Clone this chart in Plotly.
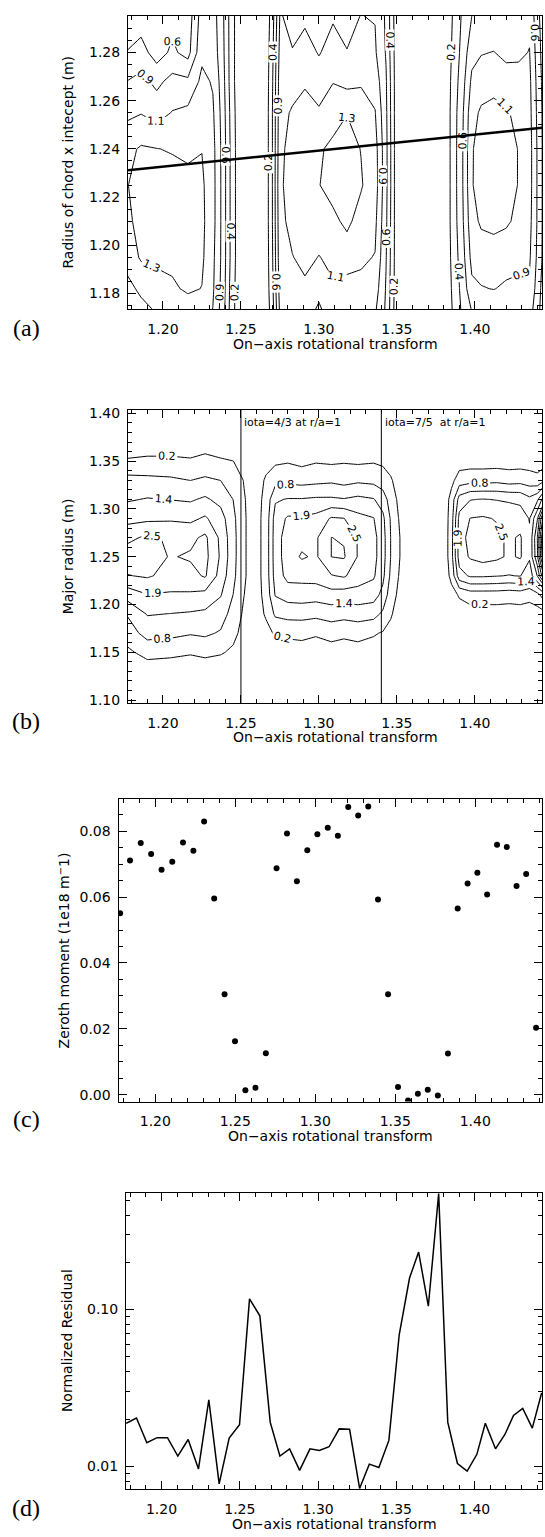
import plotly.graph_objects as go

# ---------------- Panel (a): contour of zeroth moment vs iota and chord radius
A_X = [1.176, 1.186, 1.196, 1.206, 1.216, 1.225, 1.232, 1.238, 1.244, 1.250,
       1.265, 1.270, 1.275, 1.283, 1.291, 1.300, 1.309, 1.318, 1.327, 1.336,
       1.343, 1.349, 1.355, 1.380, 1.386, 1.392, 1.398, 1.404, 1.412, 1.420,
       1.428, 1.435, 1.440, 1.445]
A_Y = [1.170, 1.182, 1.195, 1.210, 1.225, 1.240, 1.255, 1.268, 1.280, 1.297]
# one list per x column (bottom -> top)
A_COLS = [
    [0.85, 0.98, 1.15, 1.24, 1.27, 1.22, 1.02, 0.85, 0.64, 0.45],
    [0.95, 1.12, 1.31, 1.34, 1.35, 1.31, 1.06, 0.92, 0.72, 0.50],
    [1.05, 1.20, 1.33, 1.36, 1.36, 1.29, 0.98, 0.80, 0.54, 0.45],
    [1.15, 1.25, 1.34, 1.38, 1.37, 1.27, 1.08, 0.92, 0.68, 0.55],
    [1.12, 1.32, 1.36, 1.37, 1.35, 1.24, 1.12, 0.90, 0.56, 0.50],
    [1.20, 1.28, 1.32, 1.33, 1.32, 1.28, 1.18, 1.12, 1.02, 0.95],
    [1.05, 1.10, 1.12, 1.15, 1.15, 1.14, 1.10, 1.05, 0.98, 0.95],
    [0.75, 0.78, 0.80, 0.80, 0.80, 0.80, 0.78, 0.75, 0.72, 0.70],
    [0.30, 0.32, 0.35, 0.35, 0.35, 0.35, 0.33, 0.30, 0.30, 0.30],
    [0.00, 0.00, 0.00, 0.00, 0.00, 0.00, 0.00, 0.00, 0.00, 0.00],
    [0.00, 0.00, 0.00, 0.00, 0.00, 0.00, 0.00, 0.00, 0.00, 0.00],
    [0.30, 0.35, 0.38, 0.40, 0.40, 0.40, 0.40, 0.38, 0.35, 0.30],
    [0.88, 0.94, 0.98, 1.00, 1.02, 1.00, 0.98, 0.96, 0.92, 0.86],
    [0.84, 0.95, 1.06, 1.15, 1.20, 1.18, 1.10, 0.96, 0.86, 0.80],
    [0.90, 1.02, 1.14, 1.20, 1.25, 1.24, 1.16, 1.04, 0.93, 0.80],
    [0.80, 0.90, 1.06, 1.20, 1.28, 1.26, 1.10, 0.95, 0.84, 0.76],
    [0.92, 1.04, 1.13, 1.25, 1.34, 1.33, 1.20, 1.06, 0.93, 0.82],
    [0.84, 0.96, 1.20, 1.32, 1.36, 1.35, 1.28, 1.00, 0.86, 0.78],
    [0.92, 1.02, 1.10, 1.22, 1.30, 1.28, 1.15, 1.05, 0.93, 0.85],
    [0.86, 0.96, 1.06, 1.12, 1.18, 1.16, 1.08, 0.98, 0.88, 0.84],
    [0.60, 0.62, 0.65, 0.68, 0.70, 0.70, 0.68, 0.66, 0.62, 0.60],
    [0.12, 0.14, 0.15, 0.15, 0.15, 0.15, 0.15, 0.15, 0.14, 0.12],
    [0.00, 0.00, 0.00, 0.00, 0.00, 0.00, 0.00, 0.00, 0.00, 0.00],
    [0.00, 0.00, 0.00, 0.00, 0.00, 0.00, 0.00, 0.00, 0.00, 0.00],
    [0.22, 0.25, 0.28, 0.30, 0.30, 0.30, 0.30, 0.28, 0.25, 0.22],
    [0.45, 0.50, 0.55, 0.60, 0.62, 0.62, 0.60, 0.55, 0.50, 0.45],
    [0.60, 0.80, 0.92, 1.00, 1.05, 1.05, 1.00, 0.90, 0.78, 0.62],
    [0.66, 0.84, 0.96, 1.10, 1.18, 1.16, 1.10, 0.97, 0.84, 0.68],
    [0.60, 0.86, 0.98, 1.12, 1.18, 1.18, 1.13, 1.00, 0.86, 0.64],
    [0.68, 0.82, 0.94, 1.10, 1.16, 1.16, 1.10, 0.95, 0.80, 0.70],
    [0.60, 0.80, 0.92, 1.02, 1.06, 1.06, 1.00, 0.92, 0.82, 0.66],
    [0.70, 0.82, 0.88, 0.92, 0.94, 0.94, 0.92, 0.90, 0.86, 0.80],
    [0.50, 0.55, 0.60, 0.62, 0.62, 0.62, 0.60, 0.58, 0.55, 0.50],
    [0.20, 0.25, 0.30, 0.30, 0.30, 0.30, 0.30, 0.28, 0.25, 0.20],
]
CHORD_X = [1.1776, 1.443]
CHORD_Y = [1.2312, 1.2488]

# ---------------- Panel (b): contour vs iota and major radius
B_X = [1.176, 1.190, 1.205, 1.2176, 1.227, 1.237, 1.245, 1.252, 1.259,
       1.266, 1.272, 1.280, 1.289, 1.298, 1.308, 1.316, 1.325, 1.335, 1.341,
       1.346, 1.351, 1.356, 1.381, 1.385, 1.390, 1.397, 1.405, 1.414, 1.422,
       1.429, 1.435, 1.440, 1.445]
B_Y = [1.095, 1.135, 1.150, 1.170, 1.190, 1.210, 1.230, 1.250, 1.270,
       1.290, 1.310, 1.330, 1.350, 1.365, 1.405]
B_COLS = [
    [0, 0, 0.10, 0.50, 0.80, 1.55, 2.45, 2.80, 2.30, 1.75, 1.30, 1.00, 0.30, 0, 0],
    [0, 0.05, 0.45, 1.00, 1.40, 1.90, 2.55, 2.70, 2.60, 1.80, 1.40, 0.95, 0.35, 0.05, 0],
    [0, 0, 0.40, 0.95, 1.35, 1.85, 2.30, 2.45, 2.40, 1.85, 1.35, 0.90, 0.35, 0.05, 0],
    [0, 0, 0.30, 0.85, 1.30, 1.85, 2.30, 2.55, 2.35, 1.80, 1.30, 0.80, 0.30, 0.05, 0],
    [0, 0, 0.40, 0.90, 1.25, 1.75, 2.55, 2.65, 2.60, 2.00, 1.45, 0.90, 0.40, 0.10, 0],
    [0, 0, 0.30, 0.75, 1.05, 1.40, 1.70, 1.85, 1.80, 1.60, 1.20, 0.80, 0.30, 0.05, 0],
    [0, 0, 0.15, 0.40, 0.60, 0.80, 0.95, 1.00, 1.00, 0.95, 0.80, 0.55, 0.25, 0, 0],
    [0, 0, 0, 0.05, 0.15, 0.25, 0.30, 0.30, 0.30, 0.30, 0.28, 0.22, 0.10, 0, 0],
    [0, 0, 0, 0, 0, 0, 0, 0, 0, 0, 0, 0, 0, 0, 0],
    [0, 0, 0, 0.10, 0.30, 0.40, 0.45, 0.45, 0.45, 0.45, 0.40, 0.30, 0.10, 0, 0],
    [0, 0, 0, 0.30, 0.90, 1.40, 1.60, 1.65, 1.65, 1.60, 1.30, 0.60, 0.15, 0, 0],
    [0, 0, 0, 0.35, 1.00, 1.60, 2.10, 2.20, 2.20, 2.00, 1.40, 0.65, 0.20, 0, 0],
    [0, 0, 0, 0.40, 1.00, 1.65, 2.10, 2.55, 2.30, 2.00, 1.40, 0.60, 0.10, 0, 0],
    [0, 0, 0, 0.30, 0.95, 1.60, 2.15, 2.40, 2.40, 2.10, 1.45, 0.65, 0.20, 0, 0],
    [0, 0, 0, 0.45, 1.05, 1.70, 2.45, 3.05, 3.05, 2.55, 1.45, 0.70, 0.15, 0, 0],
    [0, 0, 0, 0.35, 1.00, 1.65, 2.55, 3.10, 3.00, 2.50, 1.40, 0.60, 0.20, 0, 0],
    [0, 0, 0, 0.45, 1.05, 1.70, 2.20, 2.45, 2.45, 2.10, 1.50, 0.70, 0.15, 0, 0],
    [0, 0, 0, 0.30, 1.00, 1.60, 2.00, 2.10, 2.10, 1.95, 1.40, 0.65, 0.20, 0, 0],
    [0, 0, 0, 0.20, 0.70, 1.20, 1.50, 1.60, 1.60, 1.50, 1.10, 0.50, 0.15, 0, 0],
    [0, 0, 0, 0.10, 0.30, 0.50, 0.70, 0.80, 0.80, 0.75, 0.55, 0.30, 0.05, 0, 0],
    [0, 0, 0, 0, 0.05, 0.15, 0.25, 0.30, 0.30, 0.25, 0.15, 0.05, 0, 0, 0],
    [0, 0, 0, 0, 0, 0, 0, 0, 0, 0, 0, 0, 0, 0, 0],
    [0, 0, 0, 0, 0, 0, 0, 0, 0, 0, 0, 0, 0, 0, 0],
    [0, 0, 0, 0, 0, 0.05, 0.40, 0.60, 0.60, 0.55, 0.45, 0.10, 0, 0, 0],
    [0, 0, 0, 0, 0, 0.30, 1.70, 2.20, 2.20, 2.10, 1.60, 0.50, 0, 0, 0],
    [0, 0, 0, 0, 0, 0.50, 2.00, 2.55, 2.70, 2.50, 1.90, 0.60, 0, 0, 0],
    [0, 0, 0, 0, 0, 0.50, 2.00, 2.70, 2.75, 2.55, 1.95, 0.60, 0, 0, 0],
    [0, 0, 0, 0, 0, 0.50, 1.95, 2.60, 2.60, 2.45, 1.90, 0.65, 0, 0, 0],
    [0, 0, 0, 0, 0, 0.45, 1.90, 2.40, 2.40, 2.30, 1.85, 0.55, 0, 0, 0],
    [0, 0, 0, 0, 0, 0.50, 1.95, 2.55, 2.55, 2.20, 1.80, 0.60, 0, 0, 0],
    [0, 0, 0, 0, 0, 0.40, 1.60, 2.00, 2.00, 1.90, 1.50, 0.50, 0, 0, 0],
    [0, 0, 0, 0, 0, 0.60, 2.50, 3.50, 3.60, 3.00, 1.80, 0.40, 0, 0, 0],
    [0, 0, 0, 0, 0.10, 1.20, 4.50, 6.50, 6.80, 5.50, 3.00, 0.80, 0, 0, 0],
]
IOTA_LINES = [1.25, 1.34]
IOTA_TEXT = ["iota=4/3 at r/a=1", "iota=7/5  at r/a=1"]

# ---------------- Panel (c): zeroth moment
C_X = [1.178, 1.1842, 1.1909, 1.1974, 1.2039, 1.2106, 1.2173, 1.2238, 1.2305, 1.2368,
       1.2433, 1.2498, 1.2563, 1.2626, 1.2691, 1.2758, 1.2823, 1.2885, 1.2950, 1.3013,
       1.3078, 1.3141, 1.3206, 1.3268, 1.3331, 1.3392, 1.3455, 1.3517, 1.3580, 1.3641,
       1.3703, 1.3766, 1.3829, 1.3890, 1.3952, 1.4013, 1.4074, 1.4136, 1.4197, 1.4258,
       1.4318, 1.4380]
C_Y = [0.0551, 0.0711, 0.0764, 0.0731, 0.0683, 0.0707, 0.0766, 0.0741, 0.0830, 0.0596,
       0.0305, 0.0162, 0.0013, 0.0021, 0.0126, 0.0688, 0.0793, 0.0648, 0.0742, 0.0791,
       0.0811, 0.0786, 0.0874, 0.0848, 0.0875, 0.0593, 0.0305, 0.0023, -0.0018, 0.0003,
       0.0015, -0.0003, 0.0125, 0.0565, 0.0641, 0.0674, 0.0608, 0.0759, 0.0752, 0.0634,
       0.0670, 0.0203]

# ---------------- Panel (d): normalized residual
D_X = [1.1774, 1.1840, 1.1906, 1.1972, 1.2038, 1.2104, 1.2170, 1.2236, 1.2302, 1.2368,
       1.2432, 1.2498, 1.2562, 1.2628, 1.2694, 1.2756, 1.2818, 1.2882, 1.2948, 1.3008,
       1.3070, 1.3135, 1.3201, 1.3265, 1.3327, 1.3388, 1.3452, 1.3518, 1.3584, 1.3642,
       1.3704, 1.3770, 1.3828, 1.3890, 1.3952, 1.4014, 1.4068, 1.4133, 1.4194, 1.4248,
       1.4307, 1.4368, 1.4428]
D_Y = [0.0188, 0.0203, 0.0141, 0.0152, 0.0152, 0.0116, 0.0148, 0.0096, 0.0265, 0.0077,
       0.0151, 0.0184, 0.117, 0.0912, 0.0191, 0.0116, 0.0129, 0.0094, 0.0129, 0.0126,
       0.0133, 0.0173, 0.0172, 0.0072, 0.0103, 0.0098, 0.0146, 0.069, 0.159, 0.233,
       0.105, 0.55, 0.0191, 0.0104, 0.0093, 0.0119, 0.0188, 0.0129, 0.0160, 0.0211,
       0.0234, 0.0175, 0.0294]

X_TITLE = "On\u2212axis rotational transform"
Y_TITLES = ["Radius of chord x intecept (m)", "Major radius (m)",
            "Zeroth moment (1e18 m<sup>\u2212</sup>1)", "Normalized Residual"]
PANEL_LETTERS = ["(a)", "(b)", "(c)", "(d)"]

# ---------------- layout geometry (pixels)
W, H = 545, 1537
PANELS = [  # left, right, top, bottom
    (128, 542, 12, 307),
    (128, 542, 408, 703),
    (118.5, 542, 800, 1104),
    (126, 542, 1196, 1494),
]
XRANGES = [[1.1776, 1.443], [1.1776, 1.443], [1.177, 1.4417], [1.1773, 1.443]]


def px(x):
    return x / W


def py(y):
    return 1 - y / H


FONT = "DejaVu Sans"
TICKFONT = dict(family=FONT, size=14, color="black")


def base_axis(**kw):
    d = dict(showline=True, linecolor="black", linewidth=1, mirror="allticks",
             ticks="inside", ticklen=8, tickwidth=1, tickcolor="black",
             showgrid=False, zeroline=False, tickfont=TICKFONT,
             fixedrange=True)
    d.update(kw)
    return d


fig = go.Figure()
A_Z = [list(r) for r in zip(*A_COLS)]
B_Z = [list(r) for r in zip(*B_COLS)]

black = [[0, "black"], [1, "black"]]
fig.add_trace(go.Contour(
    x=A_X, y=A_Y, z=A_Z, xaxis="x", yaxis="y", colorscale=black, showscale=False,
    line=dict(width=1, smoothing=0), hoverinfo="skip",
    contours=dict(coloring="lines", start=0.205, end=1.3, size=0.216, showlabels=True,
                  labelfont=dict(family=FONT, size=11, color="black"), labelformat=".1f")))
fig.add_trace(go.Scatter(x=CHORD_X, y=CHORD_Y, mode="lines", xaxis="x", yaxis="y",
                         line=dict(color="black", width=2.5), hoverinfo="skip"))

fig.add_trace(go.Contour(
    x=B_X, y=B_Y, z=B_Z, xaxis="x2", yaxis="y2", colorscale=black, showscale=False,
    line=dict(width=1, smoothing=0), hoverinfo="skip",
    contours=dict(coloring="lines", start=0.245, end=7.0, size=0.56, showlabels=True,
                  labelfont=dict(family=FONT, size=11, color="black"), labelformat=".1f")))

fig.add_trace(go.Scatter(x=C_X, y=C_Y, mode="markers", xaxis="x3", yaxis="y3",
                         marker=dict(size=6, color="black"), hoverinfo="skip"))

fig.add_trace(go.Scatter(x=D_X, y=D_Y, mode="lines", xaxis="x4", yaxis="y4",
                         line=dict(color="black", width=1.5), hoverinfo="skip"))

layout = dict(width=W, height=H, margin=dict(l=0, r=0, t=0, b=0),
              paper_bgcolor="white", plot_bgcolor="white", showlegend=False,
              font=dict(family=FONT, size=14, color="black"))

names = ["", "2", "3", "4"]
for i, (l, r, t, b) in enumerate(PANELS):
    n = names[i]
    xa = base_axis(domain=[px(l), px(r)], anchor="y" + n, range=XRANGES[i],
                   tick0=1.2, dtick=0.05, tickformat=".2f", ticklabelstandoff=7,
                   minor=dict(ticks="inside", ticklen=4, tick0=1.2, dtick=0.01,
                              tickcolor="black"))
    layout["xaxis" + n] = xa

layout["yaxis"] = base_axis(domain=[py(307), py(12)], anchor="x", range=[1.1735, 1.2952],
                            tick0=1.18, dtick=0.02, tickformat=".2f", ticklabelstandoff=4,
                            minor=dict(ticks="inside", ticklen=4, tick0=1.18, dtick=0.005,
                                       tickcolor="black"))
layout["yaxis2"] = base_axis(domain=[py(703), py(408)], anchor="x2", range=[1.097, 1.404],
                             tick0=1.10, dtick=0.05, tickformat=".2f", ticklabelstandoff=4,
                             minor=dict(ticks="inside", ticklen=4, tick0=1.10, dtick=0.01,
                                        tickcolor="black"))
layout["yaxis3"] = base_axis(domain=[py(1104), py(800)], anchor="x3", range=[-0.0021, 0.0897],
                             tick0=0, dtick=0.02, tickformat=".2f", ticklabelstandoff=4,
                             minor=dict(ticks="inside", ticklen=4, tick0=0, dtick=0.005,
                                        tickcolor="black"))
layout["yaxis4"] = base_axis(domain=[py(1494), py(1196)], anchor="x4", type="log",
                             range=[-2.1475, -0.2557], tickvals=[0.01, 0.1],
                             ticktext=["0.01", "0.10"], ticklabelstandoff=4,
                             minor=dict(ticks="inside", ticklen=4, tickcolor="black",
                                        tickvals=[0.008, 0.009, 0.02, 0.03, 0.04, 0.05, 0.06,
                                                  0.07, 0.08, 0.09, 0.2, 0.3, 0.4, 0.5]))

shapes = []
for xv in IOTA_LINES:
    shapes.append(dict(type="line", xref="x2", yref="y2 domain", x0=xv, x1=xv, y0=0, y1=1,
                       line=dict(color="black", width=1)))
layout["shapes"] = shapes

ann = []
for xv, txt in zip(IOTA_LINES, IOTA_TEXT):
    ann.append(dict(text=txt, xref="x2", yref="y2", x=xv + 0.0008, y=1.390, xanchor="left",
                    yanchor="middle", showarrow=False, font=dict(family=FONT, size=11)))

YTITLE_X = [68, 68, 64, 67]
XTITLE_Y = [342, 737, 1139, 1529]
LETTER_Y = [326, 721, 1122, 1513]
for i, (l, r, t, b) in enumerate(PANELS):
    ann.append(dict(text=Y_TITLES[i], xref="paper", yref="paper", x=px(YTITLE_X[i]),
                    y=py((t + b) / 2), textangle=-90, showarrow=False,
                    xanchor="center", yanchor="middle", font=dict(family=FONT, size=14)))
    ann.append(dict(text=X_TITLE, xref="paper", yref="paper", x=px((l + r) / 2),
                    y=py(XTITLE_Y[i]), showarrow=False, xanchor="center", yanchor="middle",
                    font=dict(family=FONT, size=14)))
    ann.append(dict(text=PANEL_LETTERS[i], xref="paper", yref="paper", x=px(26),
                    y=py(LETTER_Y[i]), showarrow=False, xanchor="center", yanchor="middle",
                    font=dict(family="Liberation Serif", size=24, color="black")))
layout["annotations"] = ann

fig.update_layout(**layout)
fig.write_html("out.html")
